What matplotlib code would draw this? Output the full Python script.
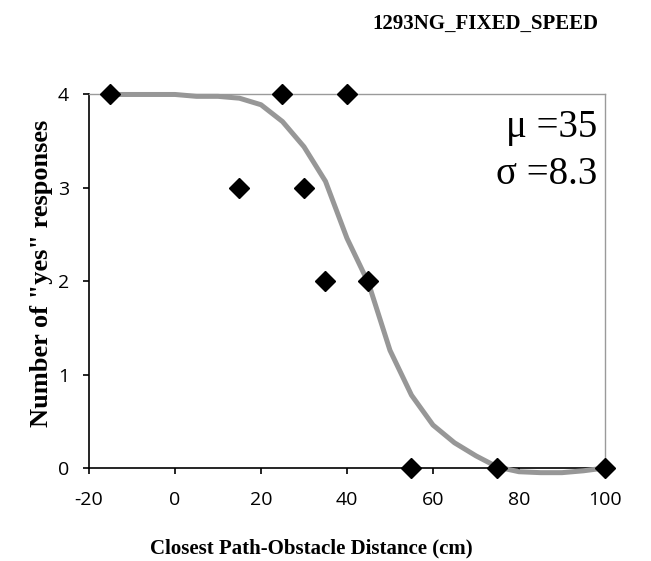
import matplotlib
matplotlib.use("Agg")
import matplotlib.pyplot as plt

plt.rcParams["axes.unicode_minus"] = False

# observed responses
resp_x = [-15, 15, 25, 30, 35, 40, 45, 55, 75, 100]
resp_y = [4, 3, 4, 3, 2, 4, 2, 0, 0, 0]

# fitted curve
fit_x = [-15, -10, -5, 0, 5, 10, 15, 20, 25, 30, 35, 40, 45, 50,
         55, 60, 65, 70, 75, 80, 85, 90, 95, 100]
fit_y = [4.0, 4.0, 4.0, 4.0, 3.98, 3.98, 3.96, 3.89, 3.71, 3.44, 3.07, 2.46, 1.98, 1.26,
         0.78, 0.46, 0.27, 0.13, 0.01, -0.04, -0.05, -0.05, -0.03, 0.0]

MU = 35
SIGMA = 8.3
TITLE = "1293NG_FIXED_SPEED"
XLABEL = "Closest Path-Obstacle Distance (cm)"
YLABEL = 'Number of "yes" responses'

SERIF = ["Liberation Serif", "DejaVu Serif"]
SANS = ["Open Sans", "DejaVu Sans"]

fig = plt.figure(figsize=(6.51, 5.61), dpi=100, facecolor="white")
ax = fig.add_axes([0.1367, 0.1658, 0.7926, 0.6658])

ax.plot(fit_x, fit_y, color="#979797", lw=3.6, clip_on=False, zorder=3,
        solid_joinstyle="round")
ax.plot(resp_x, resp_y, linestyle="none", marker="D", ms=10.5, color="black",
        clip_on=False, zorder=4)

ax.set_xlim(-20, 100)
ax.set_ylim(0, 4)
ax.set_xticks(range(-20, 101, 20))
ax.set_yticks(range(0, 5))

for side in ("top", "right"):
    ax.spines[side].set_color("#9a9a9a")
    ax.spines[side].set_linewidth(1.0)
for side in ("left", "bottom"):
    ax.spines[side].set_color("black")
    ax.spines[side].set_linewidth(1.2)

ax.tick_params(direction="out", length=4.5, width=1.2, color="black")
ax.tick_params(axis="x", pad=12)
ax.tick_params(axis="y", pad=10)
for lab in ax.get_xticklabels() + ax.get_yticklabels():
    lab.set_family(SANS)
    lab.set_fontsize(14)

ax.set_xlabel(XLABEL, family=SERIF, fontweight="bold", fontsize=15, labelpad=21)
ax.xaxis.label.set_x(0.43)
ax.set_ylabel(YLABEL, family=SERIF, fontweight="bold", fontsize=19, labelpad=3)
ax.yaxis.label.set_y(0.52)

ax.text(0.985, 0.885, f"\u03bc ={MU}", transform=ax.transAxes, ha="right",
        va="baseline", family=SERIF, fontsize=28)
ax.text(0.985, 0.76, f"\u03c3 ={SIGMA}", transform=ax.transAxes, ha="right",
        va="baseline", family=SERIF, fontsize=28)

fig.text(0.745, 0.957, TITLE, ha="center", va="center", family=SERIF,
         fontweight="bold", fontsize=15)

fig.savefig("out.png", dpi=100, facecolor="white")
